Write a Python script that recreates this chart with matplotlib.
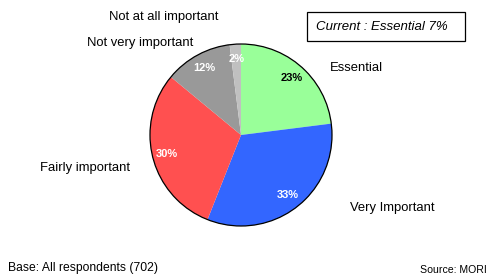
import matplotlib
matplotlib.use("Agg")
import matplotlib.pyplot as plt
from matplotlib.patches import Circle, Rectangle

plt.rcParams['font.family'] = ['Liberation Sans', 'DejaVu Sans']

categories = ["Essential", "Very Important", "Fairly important",
              "Not very important", "Not at all important"]
values = [23, 33, 30, 12, 2]
colors = ["#99ff99", "#3366ff", "#ff5050", "#999999", "#c0c0c0"]
pct_colors = ["black", "white", "white", "white", "white"]

# label anchor positions in pixels (left x, centre y from top)
label_pos = [(330, 68), (350, 208), (40, 168), (87, 43), (109, 17)]

fig = plt.figure(figsize=(5, 2.8), dpi=100)
ax = fig.add_axes([0, 0, 1, 1])

cx, cy, r = 241, 280 - 135, 91
wedges, texts, autotexts = ax.pie(
    values, colors=colors, startangle=90, counterclock=False,
    center=(cx, cy), radius=r, autopct="%d%%", pctdistance=0.84,
    wedgeprops=dict(linewidth=0),
    textprops=dict(fontsize=8, fontweight="bold"))
for t, c in zip(autotexts, pct_colors):
    t.set_color(c)

ax.add_patch(Circle((cx, cy), r, fill=False, edgecolor="black", linewidth=0.9))

for name, (x, y) in zip(categories, label_pos):
    ax.text(x, 280 - y, name, fontsize=9.4, ha="left", va="center")

ax.add_patch(Rectangle((307, 280 - 41), 158, 29, fill=False,
                       edgecolor="black", linewidth=0.9))
ax.text(316, 280 - 27, "Current : Essential 7%", fontsize=9.5,
        style="italic", ha="left", va="center")

ax.text(8, 280 - 268, "Base: All respondents (702)", fontsize=8.7,
        ha="left", va="center")
ax.text(487, 280 - 270, "Source: MORI", fontsize=7.6, ha="right", va="center")

ax.set_xlim(0, 500)
ax.set_ylim(0, 280)
ax.axis("off")

fig.savefig("out.png", dpi=100)
